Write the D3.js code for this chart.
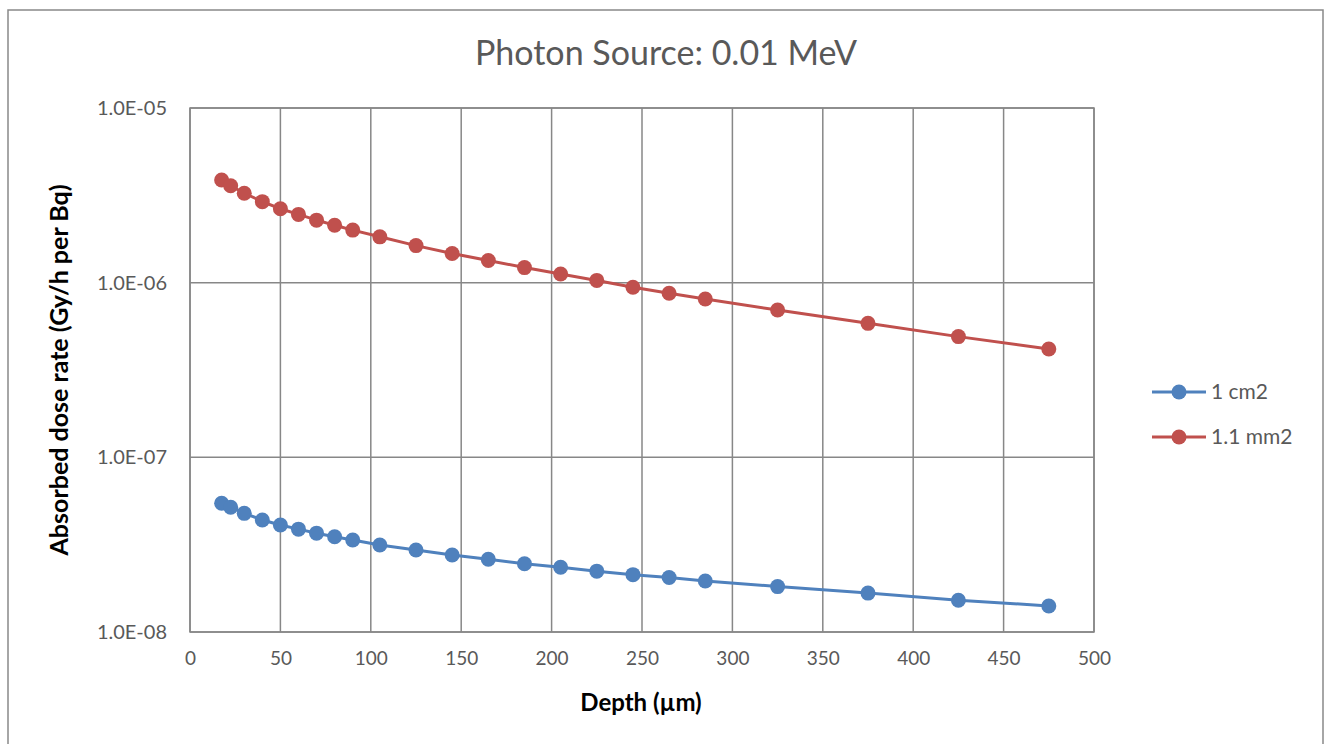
<!DOCTYPE html>
<html><head><meta charset="utf-8">
<script src="https://cdn.jsdelivr.net/npm/d3@7"></script>
<style>body{margin:0;background:#fff;} text{font-family:Lato,"Open Sans",sans-serif;}</style>
</head><body><svg id="c" width="1325" height="744"></svg>
<script>
const depths = [17.5,22.5,30,40,50,60,70,80,90,105,125,145,165,185,205,225,245,265,285,325,375,425,475];
const series1cm2 = [5.46e-8,5.18e-8,4.78e-8,4.38e-8,4.10e-8,3.88e-8,3.68e-8,3.51e-8,3.36e-8,3.15e-8,2.95e-8,2.76e-8,2.61e-8,2.46e-8,2.35e-8,2.23e-8,2.13e-8,2.05e-8,1.96e-8,1.82e-8,1.67e-8,1.52e-8,1.41e-8];
const series11mm2 = [3.87e-6,3.59e-6,3.25e-6,2.91e-6,2.65e-6,2.46e-6,2.28e-6,2.13e-6,2.00e-6,1.83e-6,1.63e-6,1.47e-6,1.34e-6,1.22e-6,1.12e-6,1.03e-6,9.41e-7,8.69e-7,8.06e-7,6.97e-7,5.85e-7,4.91e-7,4.17e-7];
const seriesNames = ["1 cm2","1.1 mm2"];
const seriesColors = ["#4F81BD","#C0504D"];
const xTicks = [0,50,100,150,200,250,300,350,400,450,500];
const yTicks = [1e-8,1e-7,1e-6,1e-5];
const yTickLabels = ["1.0E-08","1.0E-07","1.0E-06","1.0E-05"];

const svg = d3.select("#c");
const L=190,R=1094,T=108,B=632;
const grid="#878787";
svg.append("rect").attr("x",8).attr("y",10).attr("width",1315).attr("height",760)
  .attr("fill","none").attr("stroke","#898989").attr("stroke-width",1.5);

const x = d3.scaleLinear().domain([0,500]).range([L,R]);
const y = d3.scaleLog().domain([1e-8,1e-5]).range([B,T]);

svg.append("g").selectAll("line").data(xTicks).join("line")
  .attr("x1",d=>x(d)).attr("x2",d=>x(d)).attr("y1",T).attr("y2",B)
  .attr("stroke",grid).attr("stroke-width",1.5);
svg.append("g").selectAll("line").data(yTicks).join("line")
  .attr("x1",L).attr("x2",R).attr("y1",d=>y(d)).attr("y2",d=>y(d))
  .attr("stroke",grid).attr("stroke-width",1.5);
svg.append("rect").attr("x",L).attr("y",T).attr("width",R-L).attr("height",B-T)
  .attr("fill","none").attr("stroke",grid).attr("stroke-width",1.5);

const xa = svg.append("g").attr("transform",`translate(0,${B})`)
  .call(d3.axisBottom(x).tickValues(xTicks).tickSize(0).tickPadding(20));
xa.select(".domain").remove();
xa.selectAll("text").attr("font-size",19).attr("fill","#595959").attr("font-family","Lato");
const ya = svg.append("g").attr("transform",`translate(${L},0)`)
  .call(d3.axisLeft(y).tickValues(yTicks).tickFormat((d,i)=>yTickLabels[i]).tickSize(0).tickPadding(23));
ya.select(".domain").remove();
ya.selectAll("text").attr("font-size",20).attr("fill","#595959").attr("font-family","Lato");

svg.append("text").attr("x",666).attr("y",65).attr("text-anchor","middle")
  .attr("font-size",34).attr("fill","#595959").text("Photon Source: 0.01 MeV");
svg.append("text").attr("x",641).attr("y",711).attr("text-anchor","middle")
  .attr("font-size",24).attr("font-weight","bold").attr("fill","#000").text("Depth (µm)");
svg.append("text").attr("transform","translate(68,370) rotate(-90)").attr("text-anchor","middle")
  .attr("font-size",25).attr("font-weight","bold").attr("fill","#000").text("Absorbed dose rate (Gy/h per Bq)");

const data = [series1cm2, series11mm2];
const line = d3.line().x(d=>x(d[0])).y(d=>y(d[1]));
data.forEach((vals,i)=>{
  const pts = depths.map((d,j)=>[d,vals[j]]);
  const g = svg.append("g");
  g.append("path").datum(pts).attr("d",line).attr("fill","none")
    .attr("stroke",seriesColors[i]).attr("stroke-width",3);
  g.selectAll("circle").data(pts).join("circle")
    .attr("cx",d=>x(d[0])).attr("cy",d=>y(d[1])).attr("r",7.5).attr("fill",seriesColors[i]);
});

const lg = svg.append("g");
seriesNames.forEach((n,i)=>{
  const yy = 392 + i*45;
  lg.append("line").attr("x1",1152).attr("x2",1206).attr("y1",yy).attr("y2",yy)
    .attr("stroke",seriesColors[i]).attr("stroke-width",3);
  lg.append("circle").attr("cx",1179).attr("cy",yy).attr("r",7.5).attr("fill",seriesColors[i]);
  lg.append("text").attr("x",1211).attr("y",yy+7).attr("font-size",21).attr("fill","#595959").text(n);
});
</script></body></html>
